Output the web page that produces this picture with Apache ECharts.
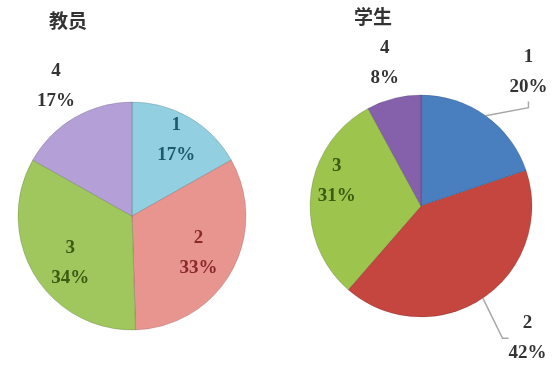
<!DOCTYPE html>
<html>
<head>
<meta charset="utf-8">
<script src="https://cdn.jsdelivr.net/npm/echarts@6/dist/echarts.min.js"></script>
<style>
  html, body { margin: 0; padding: 0; background: #ffffff; }
  #chart { width: 553px; height: 370px; }
</style>
</head>
<body>
<div id="chart"></div>
<script>
// Survey answers (share of respondents per option), teachers vs students
const categories = ['1', '2', '3', '4'];
const teacherPct = [17, 33, 34, 17];
const studentPct = [20, 42, 31, 8];
const titles = ['教员', '学生'];

// Appearance
const teacherColors = ['#92cfe0', '#e8958f', '#9fc75e', '#b4a0d6'];
const teacherLabelColors = ['#1d5a6b', '#8a2a2a', '#3b5a12', '#333333'];
const studentColors = ['#4a7fbf', '#c5463f', '#9dc44d', '#8560ab'];
const studentLabelColors = ['#333333', '#333333', '#3b5a12', '#333333'];

// label placement: radial distance (in radii) and angular nudge (deg) per slice
const pies = [
  { center: [132, 216], radius: 114, values: teacherPct, colors: teacherColors,
    labelColors: teacherLabelColors, labelDist: [0.77, 0.67, 0.68, 1.32],
    labelNudge: [0, 0, -6, 0], outside: [false, false, false, true],
    lines: [false, false, false, false] },
  { center: [421, 206], radius: 111, values: studentPct, colors: studentColors,
    labelColors: studentLabelColors, labelDist: [1.55, 1.53, 0.79, 1.33],
    labelNudge: [3, -5, 10, 0], outside: [true, true, false, true],
    lines: [true, true, false, false] }
];

// mid angle of each slice, clockwise from 12 o'clock, in radians
function midAngles(values) {
  const total = values.reduce((a, b) => a + b, 0);
  let acc = 0;
  return values.map(v => {
    const m = (acc + v / 2) / total * Math.PI * 2;
    acc += v;
    return m;
  });
}

const series = pies.map((p) => {
  const mids = midAngles(p.values);
  return {
    type: 'pie',
    center: p.center,
    radius: p.radius,
    startAngle: 90,
    clockwise: true,
    animation: false,
    avoidLabelOverlap: false,
    data: categories.map((c, i) => ({
      name: c,
      value: p.values[i],
      itemStyle: { color: p.colors[i], borderColor: 'rgba(0,0,0,0.15)', borderWidth: 1 },
      label: { color: p.labelColors[i], position: p.outside[i] ? 'outside' : 'inside' },
      labelLine: { show: p.lines[i] }
    })),
    label: {
      show: true,
      formatter: '{b}\n{c}%',
      fontFamily: 'Liberation Serif',
      fontWeight: 'bold',
      fontSize: 19,
      lineHeight: 30,
      align: 'center'
    },
    labelLine: {
      show: false,
      length: 10,
      length2: 6,
      lineStyle: { color: '#a8a8a8', width: 1.5 }
    },
    // place each label along its slice's bisector
    labelLayout: function (params) {
      const i = params.dataIndex;
      const ang = mids[i] + p.labelNudge[i] * Math.PI / 180;
      const d = p.labelDist[i] * p.radius;
      return {
        x: p.center[0] + d * Math.sin(ang),
        y: p.center[1] - d * Math.cos(ang),
        align: 'center',
        verticalAlign: 'middle'
      };
    },
    emphasis: { disabled: true }
  };
});

const chart = echarts.init(document.getElementById('chart'), null, { renderer: 'canvas' });
chart.setOption({
  backgroundColor: '#ffffff',
  title: [
    { text: titles[0], left: 44, top: 6,
      textStyle: { fontFamily: 'Noto Sans CJK SC', fontWeight: 'bold', fontSize: 19, color: '#333' } },
    { text: titles[1], left: 349, top: 2,
      textStyle: { fontFamily: 'Noto Sans CJK SC', fontWeight: 'bold', fontSize: 19, color: '#333' } }
  ],
  series: series
});
</script>
</body>
</html>
